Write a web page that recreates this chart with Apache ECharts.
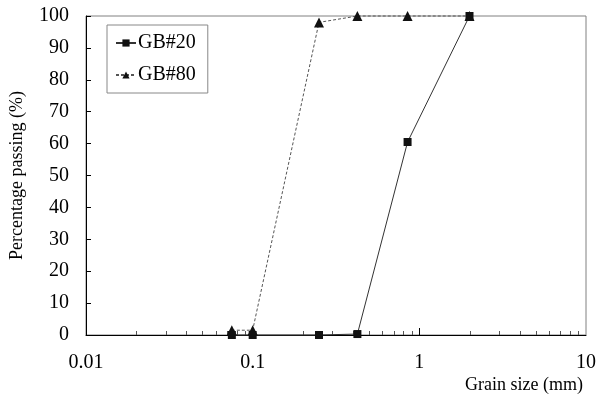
<!DOCTYPE html>
<html>
<head>
<meta charset="utf-8">
<script src="https://cdn.jsdelivr.net/npm/echarts@6/dist/echarts.min.js"></script>
<style>
  html, body { margin: 0; padding: 0; background: #fff; }
  #chart { width: 599px; height: 399px; }
</style>
</head>
<body>
<div id="chart"></div>
<script>
// sieve sizes (mm) and percent passing
const grainSizes = [0.075, 0.1, 0.25, 0.425, 0.85, 2];
const gb20 = [0, 0, 0, 0.3, 60.5, 100];
const gb80 = [1.5, 1.5, 98, 100, 100, 100];
const minorTickValues = [
  0.02, 0.03, 0.04, 0.05, 0.06, 0.07, 0.08, 0.09,
  0.2, 0.3, 0.4, 0.5, 0.6, 0.7, 0.8, 0.9,
  2, 3, 4, 5, 6, 7, 8, 9
];
const majorTickValues = [0.1, 1];

const font = "'Liberation Serif', 'Times New Roman', serif";
const chart = echarts.init(document.getElementById('chart'));

const tickSeries = (name, values, len, color) => ({
  name: name,
  type: 'custom',
  silent: true,
  clip: false,
  z: 1,
  data: values.map(v => [v, 0]),
  renderItem: (params, api) => {
    const p = api.coord([api.value(0), 0]);
    return {
      type: 'line',
      shape: { x1: Math.round(p[0]) + 0.5, y1: p[1], x2: Math.round(p[0]) + 0.5, y2: p[1] - len },
      style: { stroke: color, lineWidth: 1 }
    };
  }
});

chart.setOption({
  backgroundColor: '#fff',
  animation: false,
  grid: {
    left: 83, right: 11, top: 16, bottom: 64,
    show: true,
    borderColor: '#808080',
    borderWidth: 1
  },
  legend: {
    orient: 'vertical',
    left: 107,
    top: 25,
    padding: [8, 12, 8, 8],
    itemGap: 12,
    itemWidth: 20,
    itemHeight: 9,
    borderColor: '#888',
    borderWidth: 1,
    backgroundColor: '#fff',
    textStyle: { fontFamily: font, fontSize: 20, color: '#000', lineHeight: 20, padding: [0, 0, 0, -3] },
    data: ['GB#20', 'GB#80']
  },
  xAxis: {
    type: 'log',
    logBase: 10,
    min: 0.01,
    max: 10,
    name: 'Grain size (mm)',
    nameLocation: 'end',
    nameGap: 0,
    nameTextStyle: {
      fontFamily: font, fontSize: 18, color: '#000',
      align: 'right', verticalAlign: 'top', padding: [41, 3, 0, 0]
    },
    axisLine: { lineStyle: { color: '#000', width: 1 } },
    axisTick: { show: false },
    splitLine: { show: false },
    axisLabel: {
      fontFamily: font, fontSize: 20, color: '#000', margin: 18,
      formatter: v => String(v)
    }
  },
  yAxis: {
    type: 'value',
    min: 0,
    max: 100,
    interval: 10,
    name: 'Percentage passing (%)',
    nameLocation: 'middle',
    nameGap: 60,
    nameTextStyle: { fontFamily: font, fontSize: 18, color: '#000' },
    axisLine: { show: true, lineStyle: { color: '#000', width: 1 } },
    axisTick: { show: true, inside: true, length: 5, lineStyle: { color: '#000' } },
    splitLine: { show: false },
    axisLabel: { fontFamily: font, fontSize: 20, color: '#000', margin: 17 }
  },
  series: [
    tickSeries('minor', minorTickValues, 4, '#555'),
    tickSeries('major', majorTickValues, 7, '#000'),
    {
      name: 'GB#20',
      type: 'line',
      clip: false,
      z: 3,
      data: grainSizes.map((s, i) => [s, gb20[i]]),
      symbol: 'rect',
      symbolSize: 8,
      itemStyle: { color: '#111' },
      lineStyle: { color: '#333', width: 1, type: 'solid' }
    },
    {
      name: 'GB#80',
      type: 'line',
      clip: false,
      z: 4,
      data: grainSizes.map((s, i) => [s, gb80[i]]),
      symbol: 'triangle',
      symbolSize: 10,
      itemStyle: { color: '#111' },
      lineStyle: { color: '#555', width: 1, type: [3, 2] }
    }
  ]
});
</script>
</body>
</html>
